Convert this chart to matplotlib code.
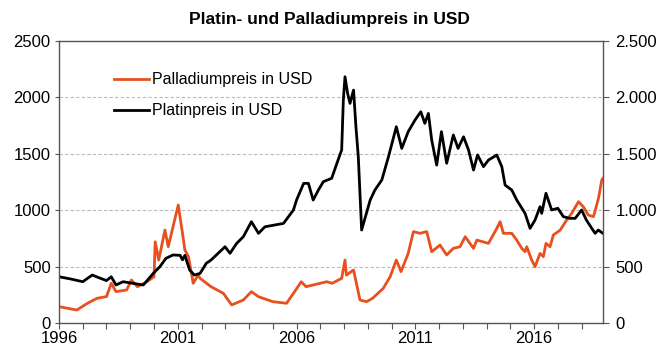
import matplotlib.pyplot as plt
from matplotlib.ticker import FuncFormatter

plt.rcParams['font.family'] = ['Liberation Sans', 'DejaVu Sans']

# Platinpreis (USD je Unze), Zeitachse in Dezimaljahren
platin_jahre = [1996.0, 1996.5, 1997.0, 1997.4, 1997.7, 1998.0, 1998.2, 1998.4, 1998.7, 1999.1,
                1999.55, 1999.97, 2000.25, 2000.5, 2000.8, 2001.1, 2001.2, 2001.3, 2001.5, 2001.7,
                2001.94, 2002.2, 2002.4, 2002.99, 2003.2, 2003.48, 2003.76, 2004.1, 2004.4, 2004.67,
                2005.45, 2005.87, 2006.0, 2006.3, 2006.5, 2006.7, 2006.92, 2007.13, 2007.48, 2007.7,
                2007.9, 2007.97, 2008.04, 2008.15, 2008.25, 2008.4, 2008.5, 2008.6, 2008.74, 2009.1,
                2009.3, 2009.59, 2009.87, 2010.2, 2010.43, 2010.7, 2010.99, 2011.23, 2011.4, 2011.55,
                2011.69, 2011.9, 2012.1, 2012.32, 2012.6, 2012.8, 2013.03, 2013.24, 2013.45, 2013.62,
                2013.87, 2014.08, 2014.43, 2014.64, 2014.78, 2015.06, 2015.27, 2015.62, 2015.83, 2016.04,
                2016.25, 2016.32, 2016.5, 2016.74, 2017.0, 2017.23, 2017.5, 2017.73, 2018.0, 2018.2,
                2018.43, 2018.57, 2018.7, 2018.9]
platin_preis = [410, 390, 366, 425, 400, 376, 410, 337, 366, 352,
                337, 440, 500, 573, 603, 600, 560, 600, 470, 425,
                440, 529, 558, 676, 618, 706, 765, 898, 795, 853,
                883, 1002, 1090, 1238, 1238, 1090, 1179, 1253, 1283, 1416,
                1534, 1977, 2183, 2036, 1947, 2065, 1740, 1474, 824, 1090,
                1179, 1268, 1474, 1740, 1548, 1696, 1800, 1873, 1770, 1858,
                1622, 1400, 1696, 1416, 1667, 1548, 1651, 1534, 1356, 1490,
                1386, 1445, 1489, 1386, 1223, 1179, 1090, 972, 839, 913,
                1031, 972, 1150, 1002, 1017, 943, 928, 928, 1002, 913,
                839, 795, 824, 795]

# Palladiumpreis (USD je Unze)
palladium_jahre = [1996.0, 1996.75, 1997.2, 1997.6, 1998.0, 1998.2, 1998.4, 1998.85, 1999.05, 1999.3,
                   1999.7, 2000.0, 2000.05, 2000.2, 2000.46, 2000.6, 2000.8, 2001.02, 2001.2, 2001.3,
                   2001.45, 2001.65, 2001.86, 2001.94, 2002.4, 2002.92, 2003.27, 2003.76, 2004.1, 2004.4,
                   2005.0, 2005.58, 2005.87, 2006.2, 2006.4, 2007.27, 2007.5, 2007.9, 2008.04, 2008.1,
                   2008.4, 2008.67, 2008.95, 2009.2, 2009.65, 2009.94, 2010.2, 2010.4, 2010.7, 2010.92,
                   2011.2, 2011.48, 2011.69, 2012.04, 2012.32, 2012.6, 2012.88, 2013.1, 2013.3, 2013.45,
                   2013.59, 2014.08, 2014.43, 2014.57, 2014.71, 2015.06, 2015.27, 2015.48, 2015.62, 2015.69,
                   2015.9, 2016.04, 2016.25, 2016.39, 2016.5, 2016.67, 2016.81, 2017.1, 2017.37, 2017.58,
                   2017.87, 2018.07, 2018.28, 2018.5, 2018.71, 2018.85, 2018.9]
palladium_preis = [145, 115, 175, 219, 234, 352, 278, 293, 381, 322,
                   366, 410, 720, 558, 824, 677, 853, 1046, 795, 647,
                   590, 352, 425, 396, 322, 263, 160, 204, 278, 233,
                   189, 175, 263, 366, 322, 366, 352, 396, 558, 425,
                   470, 204, 189, 219, 307, 410, 558, 455, 617, 810,
                   795, 810, 632, 691, 603, 662, 676, 765, 706, 662,
                   735, 706, 839, 898, 795, 795, 735, 662, 632, 676,
                   558, 500, 617, 588, 706, 676, 780, 824, 913, 972,
                   1075, 1031, 957, 943, 1105, 1268, 1283]

alle_jahre = list(range(1996, 2019))
jahres_labels = [1996, 2001, 2006, 2011, 2016]

fig = plt.figure(figsize=(6.59, 3.49), dpi=100)
ax = fig.add_axes([0.0895, 0.0745, 0.8255, 0.808])

orange = '#E8501E'
ax.plot(palladium_jahre, palladium_preis, color=orange, lw=2.0, label='Palladiumpreis in USD')
ax.plot(platin_jahre, platin_preis, color='black', lw=2.0, label='Platinpreis in USD')

ax.set_xlim(1996, 2018.9)
ax.set_ylim(0, 2500)
ax.set_xticks(alle_jahre)
ax.set_xticklabels([str(j) if j in jahres_labels else '' for j in alle_jahre])
ax.set_yticks(range(0, 2501, 500))
ax.grid(axis='y', color='#bbbbbb', ls=(0, (3, 2)), lw=0.8)
ax.set_axisbelow(True)

for s in ax.spines.values():
    s.set_color('#555555')
    s.set_linewidth(1.0)
ax.tick_params(axis='x', direction='out', length=4, color='#555555', labelsize=12, pad=2)
ax.tick_params(axis='y', direction='out', length=3, color='#555555', labelsize=12, pad=3)

# rechte Achse mit deutschem Tausenderpunkt
ax2 = ax.twinx()
ax2.set_ylim(0, 2500)
ax2.set_yticks(range(0, 2501, 500))
ax2.yaxis.set_major_formatter(FuncFormatter(lambda v, p: f'{int(v):,}'.replace(',', '.')))
ax2.tick_params(axis='y', direction='out', length=4, color='#555555', labelsize=12, pad=5)
for s in ax2.spines.values():
    s.set_visible(False)

ax.legend(loc='upper left', bbox_to_anchor=(0.075, 0.94), frameon=False, fontsize=11.5,
          handlelength=2.2, handletextpad=0.2, labelspacing=1.0)

fig.text(0.5, 0.945, 'Platin- und Palladiumpreis in USD', ha='center', va='center',
         fontsize=12.5, fontweight='bold')

fig.savefig('out.png', dpi=100)
